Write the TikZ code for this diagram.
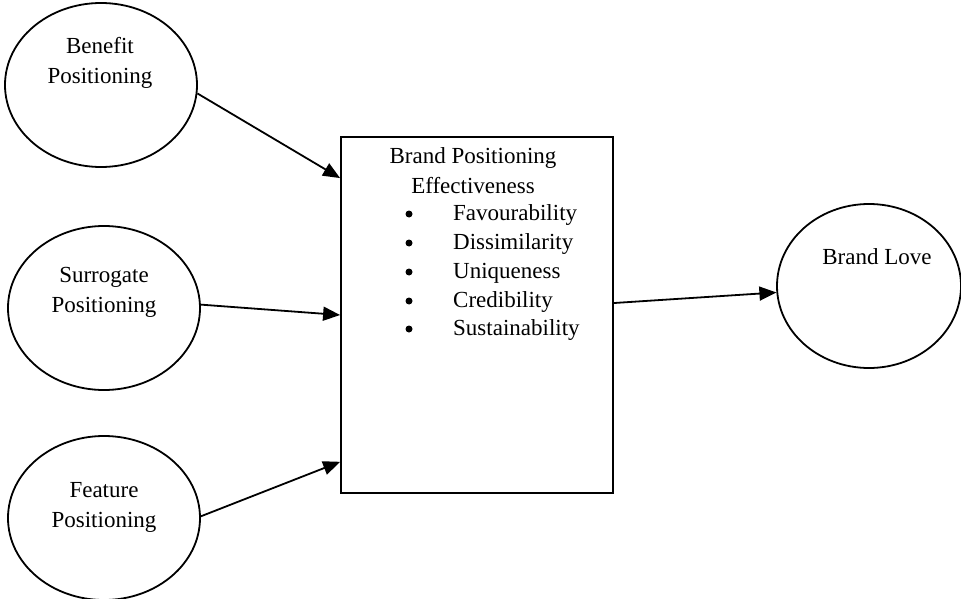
\documentclass[tikz,border=0pt]{standalone}
\usepackage{fontspec}
\setmainfont{Liberation Serif}
\usetikzlibrary{shapes.geometric,arrows.meta}
\tikzset{
  oval/.style={draw, line width=1.8pt, ellipse, inner sep=0pt, minimum width=192pt, minimum height=164pt},
  lbl/.style={font=\fontsize{23}{30}\selectfont, align=center, inner sep=0pt},
  item/.style={font=\fontsize{23}{30}\selectfont, anchor=west, inner sep=0pt},
  dot/.style={circle, fill, inner sep=0pt, minimum size=7pt},
  conn/.style={line width=1.8pt, -{Triangle[length=17pt,width=14pt]}}
}
\begin{document}
\begin{tikzpicture}[x=1pt,y=-1pt]
\useasboundingbox (0,0) rectangle (961,599);
% ellipses
\node[oval] (ben) at (101,85) {};
\node[oval] (sur) at (104,308) {};
\node[oval] (fea) at (104,518) {};
\node[oval, minimum width=184pt] (love) at (869,286) {};
% labels
\node[lbl] (benT) at (100,63) {Benefit\\Positioning};
\node[lbl] (surT) at (104,292) {Surrogate\\Positioning};
\node[lbl] (feaT) at (104,507) {Feature\\Positioning};
\node[lbl] (loveT) at (877,257) {Brand Love};
% box
\node[draw, line width=1.8pt, minimum width=272pt, minimum height=356pt, inner sep=0pt] (box) at (477,315) {};
\node[lbl] (bpe) at (473,171) {Brand Positioning\\Effectiveness};
\node[item] (i1) at (453,215) {Favourability};
\node[item] (i2) at (453,244) {Dissimilarity};
\node[item] (i3) at (453,273) {Uniqueness};
\node[item] (i4) at (453,302) {Credibility};
\node[item] (i5) at (453,330) {Sustainability};
\foreach \y/\n in {214/b1,243/b2,272/b3,301/b4,329/b5}
  \node[dot] (\n) at (409,\y) {};
% connectors
\draw[conn] (ben.-5) -- (box.135);
\draw[conn] (sur.2) -- (box.180);
\draw[conn] (fea.1) -- (box.227.8);
\draw[conn] (box.5.8) -- (love.184.3);
\end{tikzpicture}
\end{document}
